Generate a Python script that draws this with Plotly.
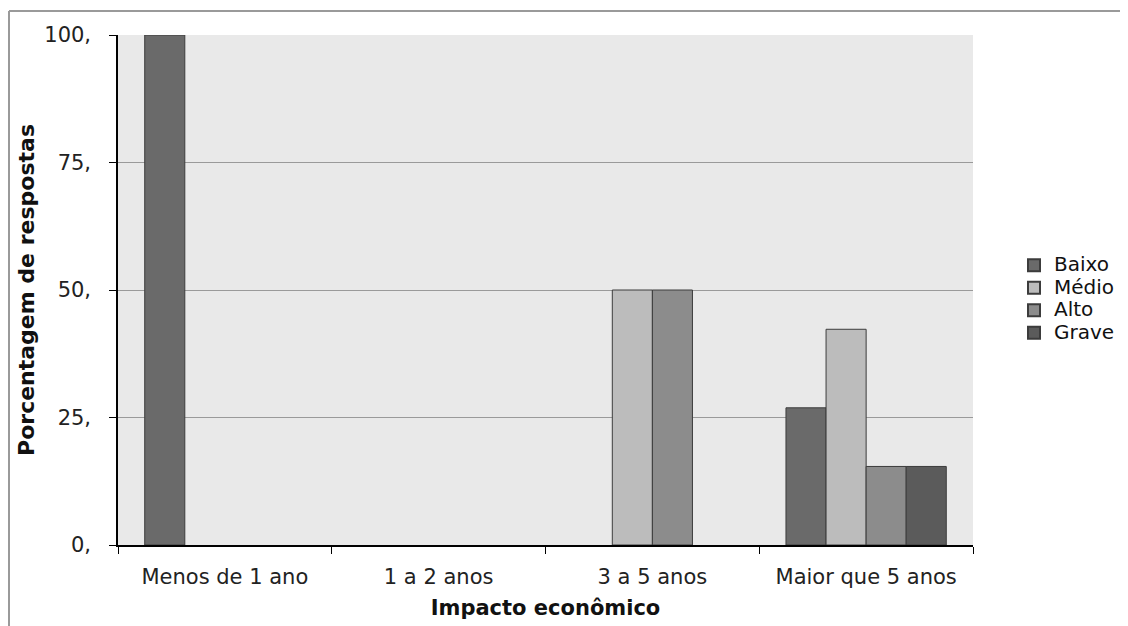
import plotly.graph_objects as go

categories = ["Menos de 1 ano", "1 a 2 anos", "3 a 5 anos", "Maior que 5 anos"]
series_names = ["Baixo", "Médio", "Alto", "Grave"]
baixo = [100, None, None, 26.9]
medio = [None, None, 50, 42.3]
alto = [None, None, 50, 15.4]
grave = [None, None, None, 15.4]
y_tick_vals = [0, 25, 50, 75, 100]
y_tick_text = ["0,", "25,", "50,", "75,", "100,"]

colors = ["#6a6a6a", "#bcbcbc", "#8c8c8c", "#5b5b5b"]
values = [baixo, medio, alto, grave]

fig = go.Figure()
for name, vals, col in zip(series_names, values, colors):
    fig.add_trace(go.Bar(
        x=categories, y=vals,
        name=f'<span style="font-size:20px">{name}</span>',
        marker=dict(color=col, line=dict(color="#3c3c3c", width=1)),
    ))

font_family = "DejaVu Sans, Liberation Sans, Arial, sans-serif"
L, R, T, B = 110, 163, 27, 89
PW, PH = 1128 - L - R, 626 - T - B

fig.update_layout(
    width=1128, height=626,
    margin=dict(l=L, r=R, t=T, b=B),
    paper_bgcolor="white",
    plot_bgcolor="#e9e9e9",
    barmode="group",
    bargap=0.25,
    bargroupgap=0,
    font=dict(family=font_family, size=21, color="#222"),
    showlegend=True,
    legend=dict(
        x=(1006 - L) / PW, y=(537 - 291) / PH, xanchor="left", yanchor="middle",
        font=dict(size=15, color="#111"),
        itemsizing="constant", tracegroupgap=0, itemwidth=30,
        bgcolor="rgba(0,0,0,0)",
    ),
    xaxis=dict(
        type="category",
        showline=True, linecolor="#000", linewidth=1.5,
        ticks="outside", tickson="boundaries", ticklen=7, tickcolor="#000",
        ticklabelstandoff=12,
        tickfont=dict(size=21, color="#222"),
        title=dict(text="<b>Impacto econômico</b>", font=dict(size=21, color="#111"), standoff=12),
        showgrid=False,
    ),
    yaxis=dict(
        range=[0, 100],
        tickvals=y_tick_vals, ticktext=y_tick_text,
        showline=True, linecolor="#000", linewidth=1.5,
        ticks="outside", ticklen=7, tickcolor="#000",
        ticklabelstandoff=14,
        tickfont=dict(size=21, color="#222"),
        showgrid=True, gridcolor="#9a9a9a", gridwidth=1,
        zeroline=False,
        title=dict(text="<b>Porcentagem de respostas</b>", font=dict(size=22, color="#111"), standoff=4),
    ),
)

# outer frame (top and left edges visible in reference)
x_left = (1 - L) / PW
y_top = (537 - 3) / PH
fig.add_shape(type="line", xref="paper", yref="paper", x0=x_left, y0=y_top, x1=1.3, y1=y_top,
              line=dict(color="#9a9a9a", width=2))
fig.add_shape(type="line", xref="paper", yref="paper", x0=x_left, y0=y_top, x1=x_left, y1=-0.3,
              line=dict(color="#9a9a9a", width=2))

fig.write_html("out.html")
